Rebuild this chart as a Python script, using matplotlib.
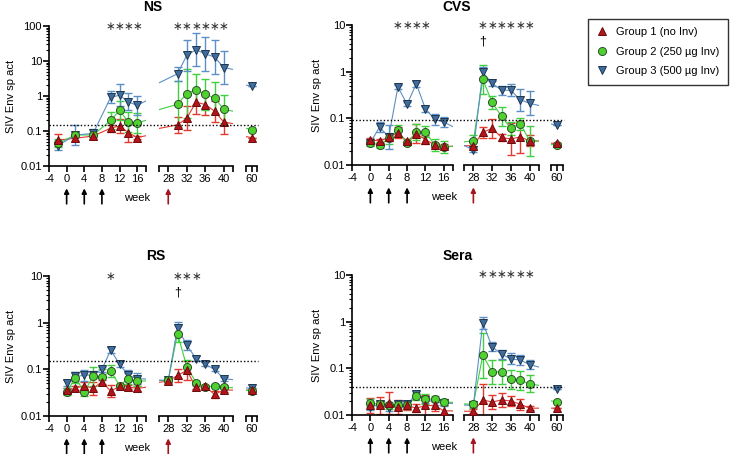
import numpy as np
import matplotlib.pyplot as plt
from matplotlib import transforms
from matplotlib.lines import Line2D
from matplotlib.ticker import FixedLocator, LogLocator, NullFormatter

plt.rcParams['font.family'] = ['Liberation Sans', 'DejaVu Sans']

# ---- data (geometric means and geometric SD factors) ----
group_labels = ['Group 1 (no Inv)', 'Group 2 (250 µg Inv)', 'Group 3 (500 µg Inv)']

weeks_ns = [-2, 2, 6, 10, 12, 14, 16, 30, 32, 34, 36, 38, 40, 60]
weeks = [0, 2, 4, 6, 8, 10, 12, 14, 16, 28, 30, 32, 34, 36, 38, 40, 60]

ns_g1 = [0.055, 0.062, 0.072, 0.12, 0.14, 0.09, 0.065, 0.15, 0.23, 0.67, 0.57, 0.37, 0.18, 0.065]
ns_g1_gsd = [1.5, 1.2, 1.2, 1.25, 1.6, 1.8, 1.1, 1.7, 2.2, 2.2, 2.0, 2.0, 2.2, 1.0]
ns_g2 = [0.044, 0.077, 0.077, 0.2, 0.39, 0.18, 0.17, 0.58, 1.17, 1.5, 1.12, 0.88, 0.42, 0.11]
ns_g2_gsd = [1.3, 1.15, 1.15, 1.8, 1.9, 1.9, 1.9, 4.5, 5.0, 2.8, 2.8, 2.8, 2.5, 1.0]
ns_g3 = [0.038, 0.077, 0.085, 0.92, 1.05, 0.68, 0.54, 4.3, 14.5, 21, 16, 13, 6.5, 1.9]
ns_g3_gsd = [1.3, 1.95, 1.3, 1.5, 2.05, 1.75, 1.85, 1.6, 2.8, 3.0, 3.0, 3.0, 2.9, 1.0]

cvs_g1 = [0.034, 0.033, 0.039, 0.049, 0.032, 0.047, 0.035, 0.027, 0.025,
          0.026, 0.050, 0.061, 0.039, 0.036, 0.040, 0.033, 0.029]
cvs_g1_gsd = [1.1, 1.1, 1.2, 1.3, 1.1, 1.6, 1.25, 1.1, 1.1,
              1.2, 1.3, 1.6, 1.2, 2.2, 2.2, 1.3, 1.0]
cvs_g2 = [0.030, 0.027, 0.037, 0.055, 0.029, 0.051, 0.052, 0.027, 0.024,
          0.033, 0.68, 0.22, 0.11, 0.061, 0.077, 0.033, 0.027]
cvs_g2_gsd = [1.15, 1.15, 1.3, 1.3, 1.1, 1.45, 1.3, 1.35, 1.35,
              1.3, 2.0, 1.4, 1.6, 1.4, 1.35, 2.1, 1.0]
cvs_g3 = [0.030, 0.065, 0.040, 0.47, 0.20, 0.55, 0.16, 0.095, 0.083,
          0.021, 0.97, 0.56, 0.40, 0.40, 0.25, 0.21, 0.071]
cvs_g3_gsd = [1.1, 1.3, 1.8, 1.1, 1.1, 1.15, 1.15, 1.3, 1.3,
              1.1, 1.3, 1.15, 1.25, 1.35, 1.7, 1.8, 1.0]

rs_g1 = [0.036, 0.039, 0.045, 0.039, 0.054, 0.034, 0.044, 0.042, 0.039,
         0.056, 0.074, 0.095, 0.041, 0.043, 0.029, 0.036, 0.036]
rs_g1_gsd = [1.1, 1.1, 1.2, 1.4, 1.1, 1.35, 1.1, 1.1, 1.15,
             1.1, 1.4, 1.6, 1.1, 1.1, 1.2, 1.1, 1.0]
rs_g2 = [0.033, 0.066, 0.033, 0.071, 0.068, 0.092, 0.045, 0.063, 0.056,
         0.058, 0.58, 0.115, 0.052, 0.042, 0.044, 0.041, 0.035]
rs_g2_gsd = [1.2, 1.3, 1.25, 1.6, 1.5, 1.35, 1.1, 1.3, 1.3,
             1.1, 1.5, 1.35, 1.1, 1.1, 1.1, 1.1, 1.0]
rs_g3 = [0.051, 0.071, 0.074, 0.077, 0.10, 0.26, 0.128, 0.074, 0.063,
         0.058, 0.78, 0.33, 0.17, 0.128, 0.10, 0.063, 0.039]
rs_g3_gsd = [1.15, 1.25, 1.3, 1.2, 1.15, 1.15, 1.15, 1.3, 1.3,
             1.1, 1.3, 1.3, 1.15, 1.1, 1.1, 1.1, 1.0]

sera_g1 = [0.016, 0.016, 0.018, 0.015, 0.016, 0.014, 0.016, 0.016, 0.0123,
           0.012, 0.021, 0.019, 0.021, 0.020, 0.017, 0.014, 0.014]
sera_g1_gsd = [1.45, 1.5, 1.7, 1.4, 1.25, 1.2, 1.7, 1.3, 1.3,
               1.1, 2.2, 1.4, 1.4, 1.3, 1.3, 1.1, 1.0]
sera_g2 = [0.018, 0.017, 0.016, 0.016, 0.016, 0.025, 0.022, 0.022, 0.019,
           0.017, 0.19, 0.084, 0.084, 0.058, 0.055, 0.047, 0.019]
sera_g2_gsd = [1.2, 1.15, 1.2, 1.2, 1.2, 1.2, 1.3, 1.15, 1.15,
               1.2, 3.0, 1.8, 1.8, 1.6, 1.6, 1.5, 1.0]
sera_g3 = [0.0145, 0.017, 0.014, 0.017, 0.017, 0.028, 0.021, 0.019, 0.018,
           0.016, 0.94, 0.29, 0.20, 0.16, 0.15, 0.12, 0.036]
sera_g3_gsd = [1.15, 1.15, 1.15, 1.15, 1.15, 1.15, 1.15, 1.15, 1.15,
               1.1, 1.35, 1.25, 1.25, 1.3, 1.3, 1.25, 1.0]

cutoffs = {'NS': 0.148, 'CVS': 0.09, 'RS': 0.148, 'Sera': 0.04}

star_weeks = {
    'NS': [10, 12, 14, 16, 30, 32, 34, 36, 38, 40],
    'CVS': [6, 8, 10, 12, 30, 32, 34, 36, 38, 40],
    'RS': [10, 30, 32, 34],
    'Sera': [30, 32, 34, 36, 38, 40],
}
dagger_weeks = {'NS': [], 'CVS': [30], 'RS': [30], 'Sera': []}

immunization_weeks = [0, 4, 8]
challenge_weeks = [28]

# ---- layout ----
W, H = 738, 454
fig = plt.figure(figsize=(W / 100, H / 100), dpi=100)

seg_limits = [(-4, 18), (26, 42), (58.8, 61.2)]
seg_ticks = [[-4, 0, 4, 8, 12, 16, 18], [26, 28, 32, 36, 40, 42], [58.8, 60, 61.2]]
seg_labels = [['-4', '0', '4', '8', '12', '16', ''], ['', '28', '32', '36', '40', ''], ['', '60', '']]

left_segs = [(49, 146), (159, 233), (246, 257)]
right_segs = [(352, 453), (464, 539), (551, 563)]

styles = [
    dict(marker='^', mfc='#b3141c', mec='#6b0b0b', line='#e23a2f', z=5),
    dict(marker='o', mfc='#4fd12f', mec='#2c4f2c', line='#3fcf3f', z=4),
    dict(marker='v', mfc='#3f6e9e', mec='#1e3550', line='#5c8fc5', z=3),
]
MS = 5.8
FS = 8


def px_axes(left, top, right, bottom):
    return fig.add_axes([left / W, 1 - bottom / H, (right - left) / W, (bottom - top) / H])


def draw_panel(title, x, groups, ymax, segs, top, title_xy, ylab_x):
    bottom = top + 140
    axes = []
    for i, ((l, r), lim, ticks, labels) in enumerate(zip(segs, seg_limits, seg_ticks, seg_labels)):
        ax = px_axes(l, top, r, bottom)
        ax.set_yscale('log')
        ax.set_ylim(0.01, ymax)
        ax.set_xlim(*lim)
        ax.patch.set_alpha(0)
        for side in ['top', 'right']:
            ax.spines[side].set_visible(False)
        ax.spines['bottom'].set_linewidth(1.2)
        ax.spines['left'].set_linewidth(1.2)
        ax.set_xticks(ticks)
        ax.set_xticklabels(labels)
        ax.tick_params(axis='x', length=4, width=1.2, labelsize=FS, pad=2)
        if i == 0:
            yt = [0.01, 0.1, 1, 10, 100] if ymax > 10 else [0.01, 0.1, 1, 10]
            ax.yaxis.set_major_locator(FixedLocator(yt))
            ax.set_yticklabels(['%g' % v for v in yt])
            ax.yaxis.set_minor_locator(LogLocator(base=10, subs=np.arange(2, 10)))
            ax.yaxis.set_minor_formatter(NullFormatter())
            ax.tick_params(axis='y', which='major', length=4, width=1.2, labelsize=FS, pad=1)
            ax.tick_params(axis='y', which='minor', length=2.5, width=0.8)
        else:
            ax.spines['left'].set_visible(False)
            ax.tick_params(axis='y', which='both', left=False, labelleft=False)

        for (m, g), st in zip(groups, styles):
            m = np.array(m)
            g = np.array(g)
            ax.errorbar(x, m, yerr=[m - m / g, m * g - m], fmt='none', ecolor=st['line'],
                        elinewidth=1, capsize=3, capthick=1, zorder=2)
            ax.plot(x, m, color=st['line'], lw=0.8, zorder=2.5)
            ax.plot(x, m, ls='none', marker=st['marker'], ms=MS, mfc=st['mfc'],
                    mec=st['mec'], mew=0.7, zorder=st['z'])

        # significance marks
        xt = ax.get_xaxis_transform()
        for w in star_weeks[title]:
            if lim[0] < w < lim[1]:
                ax.text(w, 1.0, '\u2217', transform=xt, ha='center', va='center',
                        fontsize=8.5, color='#333333', family='DejaVu Sans', clip_on=False)
        for w in dagger_weeks[title]:
            if lim[0] < w < lim[1]:
                ax.text(w, 0.88, '\u2020', transform=xt, ha='center', va='center',
                        fontsize=9, color='black', clip_on=False)

        # vaccination / challenge arrows
        for wks, col in [(immunization_weeks, 'black'), (challenge_weeks, '#a3141c')]:
            for w in wks:
                if lim[0] < w < lim[1]:
                    ax.annotate('', xy=(w, -0.16), xytext=(w, -0.27), xycoords=xt, textcoords=xt,
                                arrowprops=dict(arrowstyle='-|>', color=col, lw=1.2,
                                                mutation_scale=7, shrinkA=0, shrinkB=0),
                                annotation_clip=False)
        axes.append(ax)

    axes[0].text(16, -0.23, 'week', transform=axes[0].get_xaxis_transform(),
                 ha='center', va='center', fontsize=FS)

    # dotted cut-off line running across the axis breaks
    tr = transforms.blended_transform_factory(fig.transFigure, axes[0].transData)
    fig.add_artist(Line2D([segs[0][0] / W, (segs[2][1] + 1) / W], [cutoffs[title]] * 2,
                          transform=tr, color='black', lw=1, ls=(0, (1, 1.5)), zorder=6))

    fig.text(title_xy[0] / W, 1 - title_xy[1] / H, title, ha='center', va='center',
             fontsize=10, fontweight='bold')
    fig.text(ylab_x / W, 1 - (top + 70) / H, 'SIV Env sp act', rotation=90,
             ha='center', va='center', fontsize=FS)
    return axes


draw_panel('NS', weeks_ns, [(ns_g1, ns_g1_gsd), (ns_g2, ns_g2_gsd), (ns_g3, ns_g3_gsd)],
           100, left_segs, 26, (153, 7), 11)
draw_panel('CVS', weeks, [(cvs_g1, cvs_g1_gsd), (cvs_g2, cvs_g2_gsd), (cvs_g3, cvs_g3_gsd)],
           10, right_segs, 25, (457, 7), 317)
draw_panel('RS', weeks, [(rs_g1, rs_g1_gsd), (rs_g2, rs_g2_gsd), (rs_g3, rs_g3_gsd)],
           10, left_segs, 276, (156, 256), 11)
draw_panel('Sera', weeks, [(sera_g1, sera_g1_gsd), (sera_g2, sera_g2_gsd), (sera_g3, sera_g3_gsd)],
           10, right_segs, 275, (458, 256), 317)

handles = [Line2D([], [], ls='none', marker=st['marker'], ms=MS, mfc=st['mfc'],
                  mec=st['mec'], mew=0.7) for st in styles]
leg = fig.legend(handles, group_labels, loc='upper left', bbox_to_anchor=(588 / W, 1 - 19 / H),
                 bbox_transform=fig.transFigure, frameon=True, fancybox=False, edgecolor='black',
                 fontsize=FS, borderpad=0.75, labelspacing=0.85, handlelength=1.0,
                 handletextpad=0.8, borderaxespad=0)
leg.get_frame().set_linewidth(1.0)

fig.savefig('out.png', dpi=100)
